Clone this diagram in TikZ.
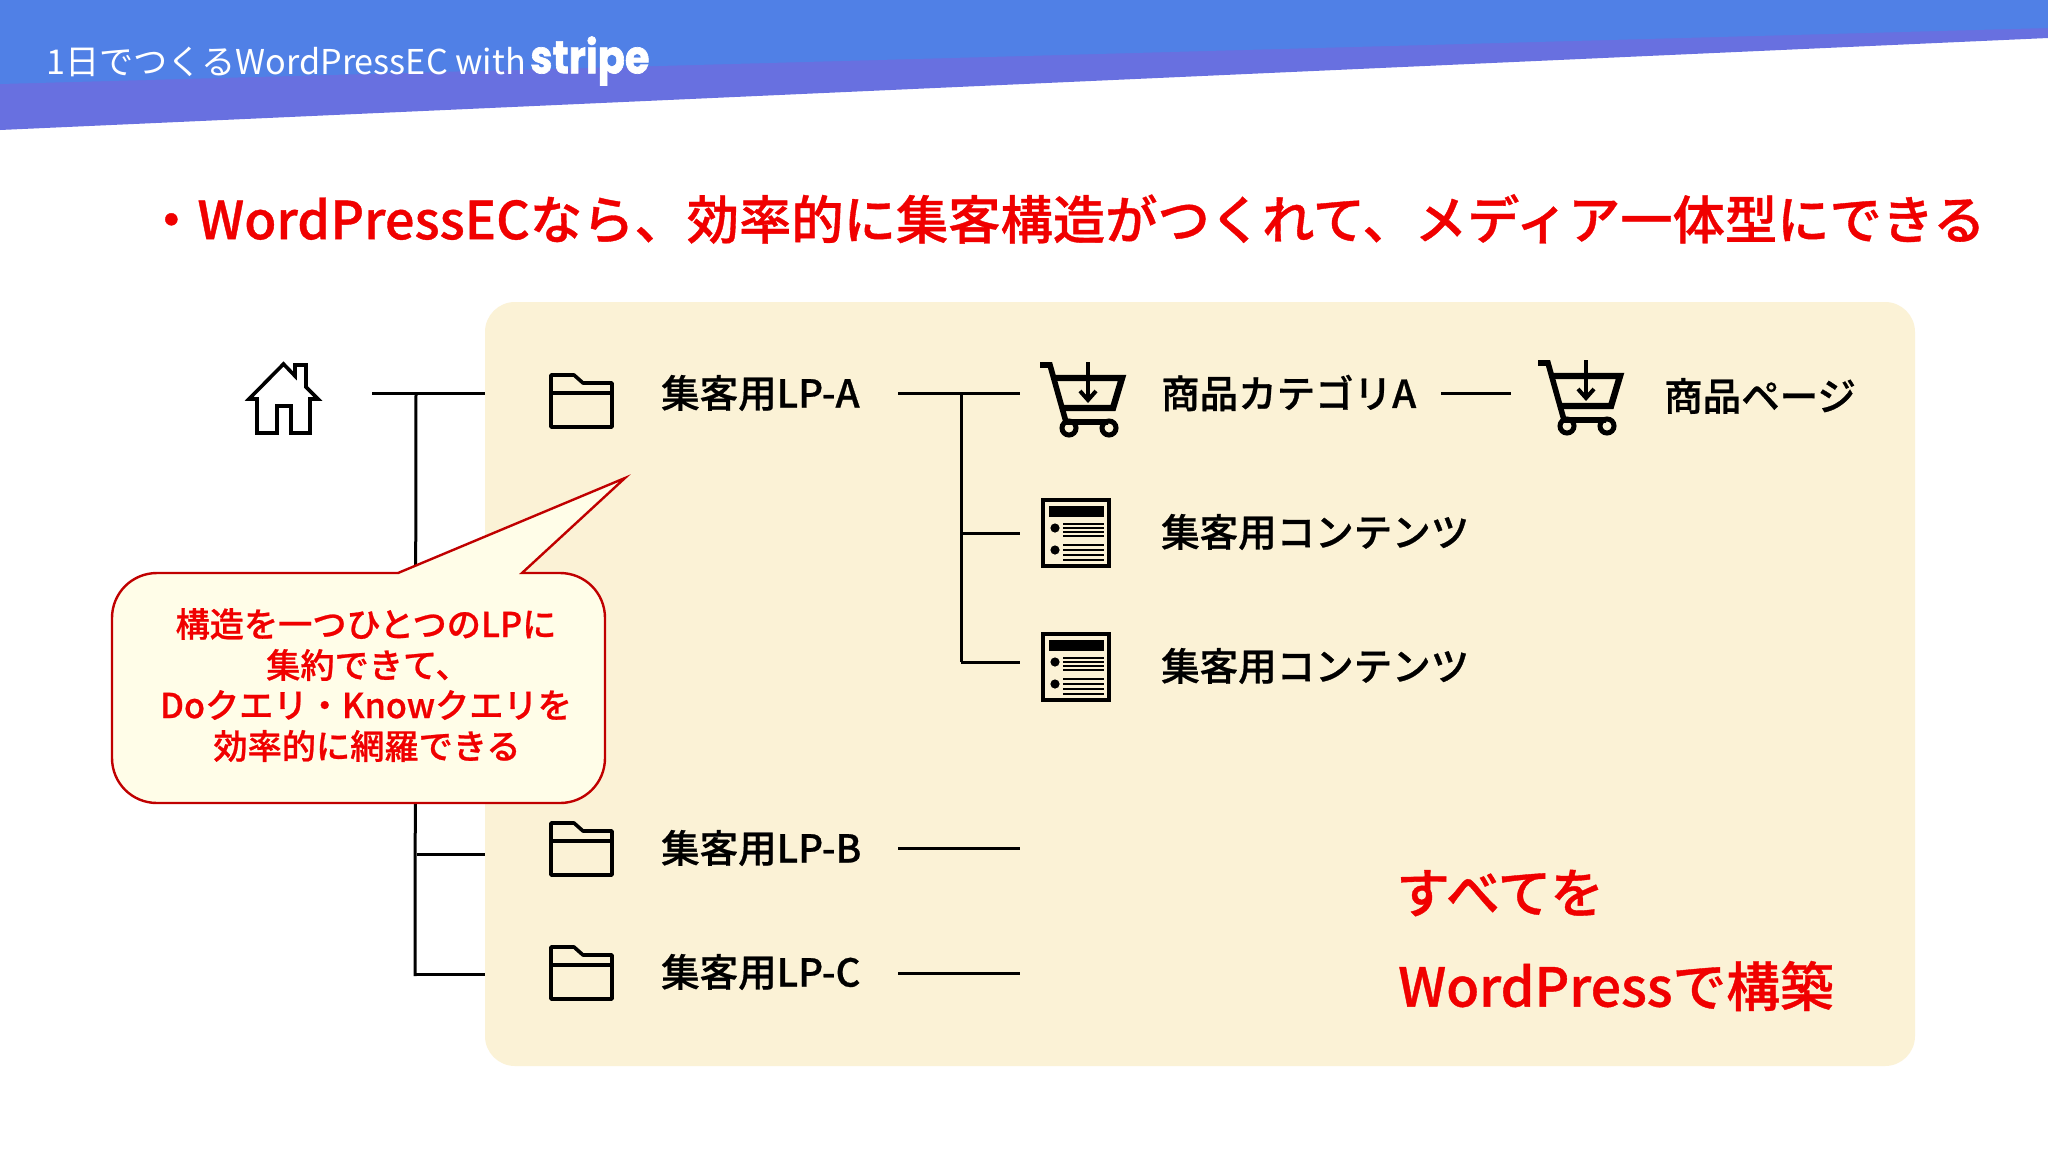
\documentclass[tikz,border=0pt]{standalone}
\usepackage{fontspec}
\setmainfont{Noto Sans CJK JP}[BoldFont={Noto Sans CJK JP Medium},BoldFeatures={FakeBold=0.7}]
\newfontfamily\logofont{Poppins}[BoldFeatures={FakeBold=1.5}]
\definecolor{bandblue}{HTML}{5080E6}
\definecolor{bandviolet}{HTML}{6870E0}
\definecolor{panelcream}{HTML}{FBF2D6}
\definecolor{calloutfill}{HTML}{FFFDE8}
\definecolor{calloutline}{HTML}{C00000}
\definecolor{alertred}{HTML}{F00000}
\newcommand{\fsz}[1]{\fontsize{#1}{#1}\selectfont}
\tikzset{
  x=1pt,y=-1pt,
  link/.style={line width=3pt,black},
  iconline/.style={line width=3.6pt,black,line join=miter},
  label/.style={anchor=west,inner sep=0pt,black,font=\fsz{38.5}\bfseries},
  alert/.style={anchor=west,inner sep=0pt,text=alertred,font=\fsz{53.7}\bfseries},
  calloutline text/.style={anchor=center,inner sep=0pt,text=alertred,font=\fsz{34.2}\bfseries},
  foldericon/.pic={
    \draw[iconline,line join=round] (0,0) -- (23,0) -- (32,8) -- (61,8) -- (61,52) -- (0,52) -- cycle;
    \draw[iconline] (0,18) -- (61,18);
  },
  carticon/.pic={
    \draw[line width=5.6pt,line join=miter] (0,5) -- (10,5) -- (26,62) -- (68,62);
    \draw[line width=6.4pt,line join=miter] (13,18) -- (82,18) -- (73,48) -- (21,48);
    \draw[line width=3.6pt] (48,2) -- (48,40);
    \draw[line width=4pt] (40,31) -- (48,40) -- (56,31);
    \draw[line width=5pt] (29,68) circle[radius=7];
    \draw[line width=5pt] (69,68) circle[radius=7];
  },
  docicon/.pic={
    \draw[line width=3.6pt] (2,2) rectangle (68,68);
    \fill (8,8) rectangle (63,19);
    \fill (14,30) circle[radius=4.6];
    \fill (14,52) circle[radius=4.6];
    \foreach \yy in {26,30,34,38,47,52,57,62}{\draw[line width=1.7pt] (22,\yy) -- (63,\yy);}
  }
}
\begin{document}
\begin{tikzpicture}
\useasboundingbox (0,0) rectangle (2048,1152);
\fill[white] (0,0) rectangle (2048,1152);
% header band
\fill[bandviolet] (0,0) -- (2048,0) -- (2048,38) -- (0,130) -- cycle;
\fill[bandblue] (0,0) -- (2048,0) -- (2048,28) -- (0,84) -- cycle;
\node[anchor=west,inner sep=0pt,white,font=\fsz{34.2}] (headtext) at (46,62) {1日でつくるWordPressEC with};
\node[anchor=west,inner sep=0pt,white,font=\logofont\fsz{46}\bfseries] (logo) at (530,61) {\scalebox{0.87}[1]{stripe}};
% title
\node[anchor=west,inner sep=0pt,text=alertred,font=\fsz{52.3}\bfseries] (title) at (145,219) {・WordPressECなら、効率的に集客構造がつくれて、メディア一体型にできる};
% panel
\fill[panelcream,rounded corners=30pt] (485,302) rectangle (1915,1066);
% anchors
\coordinate (rootL) at (372,393);
\coordinate (rootR) at (485,393);
\coordinate (trunkT) at (416,393);
\coordinate (trunkB) at (415,976);
\coordinate (bL) at (417,854);
\coordinate (bR) at (485,854);
\coordinate (cL) at (414,974);
\coordinate (cR) at (485,974);
\coordinate (aOutL) at (898,393);
\coordinate (aOutR) at (1020,393);
\coordinate (subT) at (961,393);
\coordinate (subB) at (961,662);
\coordinate (sub1R) at (1020,533);
\coordinate (sub2R) at (1020,662);
\coordinate (sub1L) at (961,533);
\coordinate (bOutL) at (898,848);
\coordinate (bOutR) at (1020,848);
\coordinate (cOutL) at (898,973);
\coordinate (cOutR) at (1020,973);
\coordinate (catL) at (1441,393);
\coordinate (catR) at (1511,393);
% connectors
\draw[link] (rootL) -- (rootR);
\draw[link] (trunkT) -- (trunkB);
\draw[link] (bL) -- (bR);
\draw[link] (cL) -- (cR);
\draw[link] (aOutL) -- (aOutR);
\draw[link] (subT) -- (subB);
\draw[link] (sub1L) -- (sub1R);
\draw[link] (subB) -- (sub2R);
\draw[link] (bOutL) -- (bOutR);
\draw[link] (cOutL) -- (cOutR);
\draw[link] (catL) -- (catR);
% home icon
\draw[iconline] (283.5,364) -- (295,376) -- (295,365) -- (306,365) -- (306,387) -- (318,399) -- (310,399) -- (310,433) -- (291,433) -- (291,406) -- (277,406) -- (277,433) -- (257,433) -- (257,399) -- (249,399) -- cycle;
% folders
\pic at (551,375) {foldericon};
\pic at (551,823) {foldericon};
\pic at (551,947) {foldericon};
% carts
\pic at (1040,360) {carticon};
\pic at (1538,358) {carticon};
% docs
\pic at (1041,498) {docicon};
\pic at (1041,632) {docicon};
% labels
\node[label] (lpa) at (661,393) {集客用LP-A};
\node[label] (lpb) at (661,848) {集客用LP-B};
\node[label] (lpc) at (661,972) {集客用LP-C};
\node[label] (cat) at (1161,393) {商品カテゴリA};
\node[label] (page) at (1664,396) {商品ページ};
\node[label] (cont1) at (1161,532) {集客用コンテンツ};
\node[label] (cont2) at (1161,666) {集客用コンテンツ};
\node[alert] (all1) at (1396,893) {すべてを};
\node[alert] (all2) at (1398,986) {WordPressで構築};
% callout
\draw[line width=2.4pt,draw=calloutline,fill=calloutfill,line join=miter]
  (522,573) -- (560,573) .. controls (585,573) and (605,593) .. (605,618)
  -- (605,758) .. controls (605,783) and (585,803) .. (560,803)
  -- (157,803) .. controls (132,803) and (112,783) .. (112,758)
  -- (112,618) .. controls (112,593) and (132,573) .. (157,573)
  -- (398,573) -- (625,478) -- cycle;
\node[calloutline text] (c1) at (366,624) {構造を一つひとつのLPに};
\node[calloutline text] (c2) at (368,665) {集約できて、};
\node[calloutline text] (c3) at (366,705) {Doクエリ・Knowクエリを};
\node[calloutline text] (c4) at (367,746) {効率的に網羅できる};
\end{tikzpicture}
\end{document}
